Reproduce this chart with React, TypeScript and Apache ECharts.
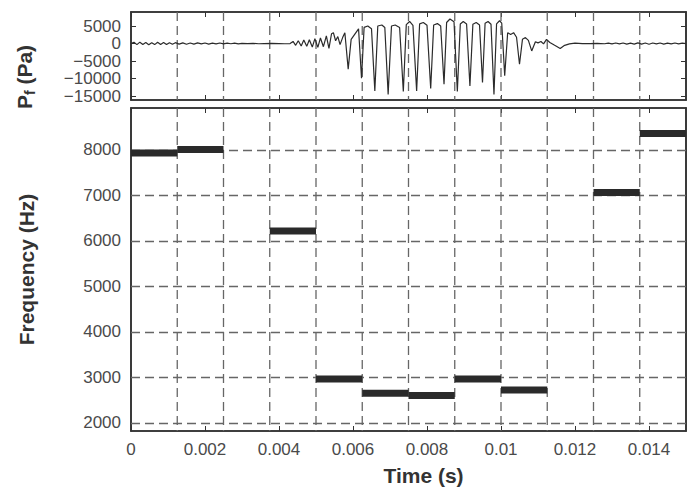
import React, { useEffect, useRef } from "react";
import * as echarts from "echarts";

// Pressure waveform P_f (time in ms, pressure in Pa)
const pfTimeMs = [
  0.0, 0.08, 0.16, 0.24, 0.32, 0.4, 0.48, 0.56, 0.64, 0.72, 0.8, 0.88, 0.96, 1.04, 1.12, 1.2,
  1.3, 1.4, 1.5, 1.6, 1.7, 1.8, 1.9, 2.0, 2.1, 2.2, 2.3, 2.4, 2.5, 2.6, 2.7, 2.8, 2.9, 3.0,
  3.15, 3.3, 3.45, 3.6, 3.8, 4.0, 4.15, 4.3,
  4.38, 4.45, 4.52, 4.6, 4.67, 4.75, 4.82, 4.9, 4.97, 5.05, 5.12, 5.2, 5.28, 5.35, 5.42, 5.47,
  5.53, 5.59, 5.65, 5.72, 5.78, 5.87,
  5.95, 6.05, 6.15, 6.23,
  6.3, 6.4, 6.5, 6.59,
  6.67, 6.78, 6.86, 6.95,
  7.04, 7.14, 7.26, 7.36,
  7.44, 7.53, 7.62, 7.72,
  7.8, 7.9, 8.0, 8.1,
  8.18, 8.28, 8.37, 8.46,
  8.53, 8.62, 8.73, 8.82,
  8.9, 8.98, 9.07, 9.16,
  9.24, 9.33, 9.42, 9.5,
  9.57, 9.65, 9.73, 9.81,
  9.88, 9.96, 10.02, 10.1,
  10.18, 10.26, 10.34, 10.42, 10.5,
  10.58, 10.66, 10.74, 10.83,
  10.93, 11.0, 11.08, 11.15, 11.23, 11.32, 11.45, 11.6, 11.72, 11.85, 12.0, 12.2, 12.4, 12.6,
  12.8, 12.9, 13.0, 13.1, 13.2, 13.3, 13.4, 13.5, 13.6, 13.7, 13.8, 13.9, 14.0, 14.1, 14.2,
  14.3, 14.4, 14.5, 14.6, 14.7, 14.8, 14.9, 15.0,
];
const pfPa = [
  0, 350, -300, 400, -250, 300, -350, 250, -300, 350, -250, 300, -300, 250, -200, 250,
  -150, 200, -200, 150, -150, 200, -100, 150, -150, 100, -100, 150, -100, 100, -50, 100, -100, 50,
  0, 50, -50, 0, 50, 0, -50, 0,
  600, -500, 800, -700, 1000, -800, 1100, -1000, 1400, -1100, 1600, -900, 2200, -1400, 2800, 3100,
  800, 2000, -300, 1700, 3100, -7300,
  1200, 2700, 4200, -9900,
  4600, 5000, 4200, -13500,
  5000, 5300, 4600, -14500,
  5000, 5300, 4600, -13700,
  5400, 6300, 5200, -13500,
  5600, 6000, 5200, -12800,
  5300, 5700, 5000, -11600,
  6000, 7000, 6200, -13700,
  5600, 6300, 5600, -12100,
  5500, 6000, 5300, -11100,
  5800, 6300, 5500, -14500,
  5600, 6500, 5800, -9200,
  3100, 2600, 3100, 1800, -5900,
  1200, 1700, 900, -2100,
  500, 200, 600, -100, 1200, 300, -500, -1400, -500, -100, 100, 0, 0, 50,
  -50, 100, -100, 150, -100, 150, -150, 100, -150, 200, -150, 150, -200, 150, -100,
  150, -150, 100, -100, 150, -100, 100, 0,
];

// Frame-wise frequency estimates (ms, Hz)
const frameStartMs = [0, 1.25, 3.75, 5.0, 6.25, 7.5, 8.75, 10.0, 12.5, 13.75];
const frameEndMs = [1.25, 2.5, 5.0, 6.25, 7.5, 8.75, 10.0, 11.25, 13.75, 15.0];
const frameFreqHz = [7930, 8010, 6215, 2965, 2650, 2600, 2965, 2720, 7065, 8360];

// Frame boundaries (dashed vertical lines), ms
const frameBoundaryMs = [1.25, 2.5, 3.75, 5.0, 6.25, 7.5, 8.75, 10.0, 11.25, 12.5, 13.75];

// Tick values
const timeTicks = [0, 0.002, 0.004, 0.006, 0.008, 0.01, 0.012, 0.014];
const pfTicks = [5000, 0, -5000, -10000, -15000];
const freqTicks = [2000, 3000, 4000, 5000, 6000, 7000, 8000];

const FONT = "'Liberation Sans', Arial, Helvetica, sans-serif";
const AXIS_COLOR = "#333333";
const LABEL_COLOR = "#4a4a4a";
const TITLE_COLOR = "#333333";
const DASH_COLOR = "#666666";
const DASH = [9, 5];

export default function App() {
  const ref = useRef<HTMLDivElement>(null);

  useEffect(() => {
    if (!ref.current) return;
    const chart = echarts.init(ref.current, null, { renderer: "svg" });

    const xBase = (grid: number, pos: "bottom" | "top", labels: boolean) => ({
      type: "value",
      gridIndex: grid,
      position: pos,
      min: 0,
      max: 0.015,
      axisLine: { show: true, onZero: false, lineStyle: { color: AXIS_COLOR, width: 1.6 } },
      axisTick: {
        show: true,
        inside: true,
        length: 5,
        customValues: timeTicks,
        lineStyle: { color: AXIS_COLOR, width: 1 },
      },
      axisLabel: {
        show: labels,
        customValues: timeTicks,
        margin: 10,
        fontFamily: FONT,
        fontSize: 17,
        color: LABEL_COLOR,
        formatter: (v: number) => String(Number(v.toFixed(4))),
      },
      splitLine: { show: false },
    });

    const yBase = (
      grid: number,
      pos: "left" | "right",
      min: number,
      max: number,
      ticks: number[],
      labels: boolean
    ) => ({
      type: "value",
      gridIndex: grid,
      position: pos,
      min,
      max,
      axisLine: { show: true, onZero: false, lineStyle: { color: AXIS_COLOR, width: 1.6 } },
      axisTick: {
        show: true,
        inside: true,
        length: 5,
        customValues: ticks,
        lineStyle: { color: AXIS_COLOR, width: 1 },
      },
      axisLabel: {
        show: labels,
        customValues: ticks,
        margin: 10,
        fontFamily: FONT,
        fontSize: 17,
        color: LABEL_COLOR,
        formatter: (v: number) => (v < 0 ? "\u2212" + String(Math.abs(v)) : String(v)),
      },
      splitLine: { show: false },
    });

    const yTop = yBase(0, "left", -16100, 9000, pfTicks, true) as any;
    yTop.name = "{p|P}{s|f}{p| (Pa)}";
    yTop.nameLocation = "middle";
    yTop.nameRotate = 90;
    yTop.nameGap = 94;
    yTop.nameTextStyle = {
      padding: [0, 42, 0, 0],
      rich: {
        p: { fontFamily: FONT, fontSize: 21, fontWeight: "bold", color: TITLE_COLOR, lineHeight: 26 },
        s: {
          fontFamily: FONT,
          fontSize: 14,
          fontWeight: "bold",
          color: TITLE_COLOR,
          lineHeight: 26,
          verticalAlign: "bottom",
        },
      },
    };

    const yBottom = yBase(1, "left", 1820, 8920, freqTicks, true) as any;
    yBottom.name = "Frequency (Hz)";
    yBottom.nameLocation = "middle";
    yBottom.nameRotate = 90;
    yBottom.nameGap = 94;
    yBottom.nameTextStyle = { fontFamily: FONT, fontSize: 21, fontWeight: "bold", color: TITLE_COLOR };

    const xBottom = xBase(1, "bottom", true) as any;
    xBottom.name = "Time (s)";
    xBottom.nameLocation = "middle";
    xBottom.nameGap = 34;
    xBottom.nameTextStyle = {
      fontFamily: FONT,
      fontSize: 21,
      fontWeight: "bold",
      color: TITLE_COLOR,
      padding: [0, 0, 0, 30],
    };

    // vertical dashed lines at frame boundaries, drawn through the axes' scales
    const boundarySeries = (xi: number, yi: number) => ({
      type: "custom",
      xAxisIndex: xi,
      yAxisIndex: yi,
      z: 3,
      silent: true,
      encode: { x: 0 },
      data: frameBoundaryMs.map((t) => [t / 1000]),
      renderItem: (params: any, api: any) => {
        const cs = params.coordSys;
        const p = api.coord([api.value(0), 0]);
        return {
          type: "line",
          shape: { x1: p[0], y1: cs.y, x2: p[0], y2: cs.y + cs.height },
          style: { stroke: DASH_COLOR, lineWidth: 1.3, lineDash: DASH },
        };
      },
    });

    const gridCommon = {
      left: 131,
      right: 8,
      show: true,
      borderColor: AXIS_COLOR,
      borderWidth: 1.6,
      backgroundColor: "transparent",
      containLabel: false,
      outerBoundsMode: "none",
    };

    chart.setOption({
      animation: false,
      backgroundColor: "#ffffff",
      textStyle: { fontFamily: FONT },
      grid: [
        { ...gridCommon, top: 12, height: 88 },
        { ...gridCommon, top: 108, height: 323 },
      ],
      xAxis: [xBase(0, "bottom", false), xBase(0, "top", false), xBottom, xBase(1, "top", false)],
      yAxis: [
        yTop,
        yBase(0, "right", -16100, 9000, pfTicks, false),
        yBottom,
        yBase(1, "right", 1820, 8920, freqTicks, false),
      ],
      series: [
        boundarySeries(0, 0),
        boundarySeries(2, 2),
        {
          type: "line",
          xAxisIndex: 0,
          yAxisIndex: 0,
          z: 6,
          showSymbol: false,
          symbol: "none",
          silent: true,
          lineStyle: { color: "#2b2b2b", width: 1.2 },
          data: pfTimeMs.map((t, i) => [t / 1000, pfPa[i]]),
        },
        {
          type: "custom",
          xAxisIndex: 2,
          yAxisIndex: 2,
          z: 6,
          silent: true,
          encode: { x: [0, 1], y: 2 },
          data: frameStartMs.map((s, i) => [s / 1000, frameEndMs[i] / 1000, frameFreqHz[i]]),
          renderItem: (_params: any, api: any) => {
            const a = api.coord([api.value(0), api.value(2)]);
            const b = api.coord([api.value(1), api.value(2)]);
            return {
              type: "line",
              shape: { x1: a[0], y1: a[1], x2: b[0], y2: b[1] },
              style: { stroke: "#2a2a2a", lineWidth: 7 },
            };
          },
          markLine: {
            silent: true,
            symbol: ["none", "none"],
            label: { show: false },
            lineStyle: { color: DASH_COLOR, type: DASH, width: 1.3 },
            emphasis: { disabled: true },
            data: freqTicks.map((f) => ({ yAxis: f })),
          },
        },
      ],
    });

    return () => chart.dispose();
  }, []);

  return (
    <div
      ref={ref}
      style={{ position: "fixed", left: 0, top: 0, width: 694, height: 488, background: "#fff" }}
    />
  );
}
